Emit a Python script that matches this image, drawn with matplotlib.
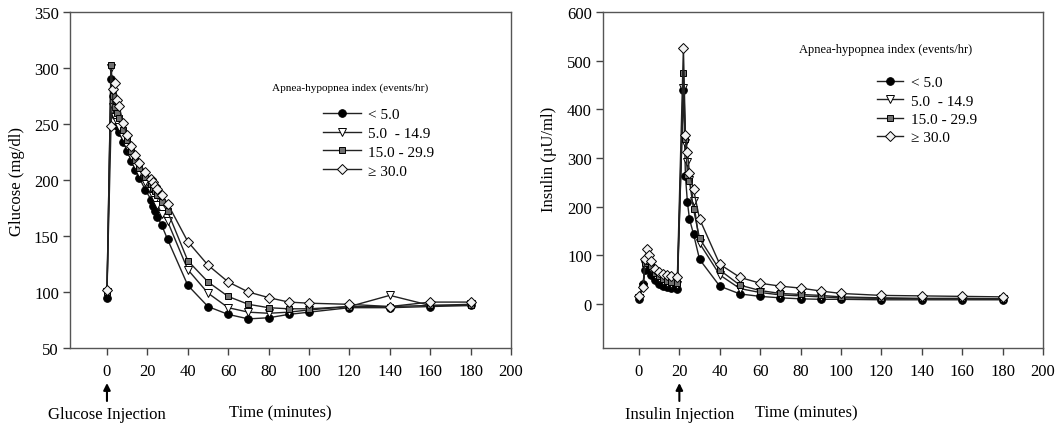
import matplotlib
matplotlib.use("Agg")
import matplotlib.pyplot as plt

plt.rcParams['font.family'] = ['Liberation Serif', 'DejaVu Serif']

# sampling times (minutes)
t = [0, 2, 3, 4, 5, 6, 8, 10, 12, 14, 16, 19, 22, 23, 24, 25, 27, 30,
     40, 50, 60, 70, 80, 90, 100, 120, 140, 160, 180]

groups = ['< 5.0', '5.0  - 14.9', '15.0 - 29.9', '\u2265 30.0']

# glucose (mg/dl)
glu_lt5 = [95, 290, 275, 258, 248, 243, 234, 226, 217, 209, 202, 191, 182, 177, 172, 167, 160, 147,
           106, 87, 80, 76, 77, 80, 82, 86, 86, 87, 88]
glu_5_15 = [100, 300, 265, 256, 252, 247, 238, 230, 221, 213, 206, 198, 190, 186, 182, 178, 170, 163,
            120, 99, 86, 82, 81, 82, 84, 87, 97, 88, 89]
glu_15_30 = [100, 303, 275, 265, 260, 255, 245, 236, 226, 218, 211, 203, 196, 193, 190, 187, 180, 172,
             128, 109, 96, 89, 86, 85, 85, 87, 87, 88, 88]
glu_ge30 = [102, 248, 281, 287, 271, 266, 251, 240, 230, 222, 215, 207, 201, 198, 195, 192, 187, 179,
            145, 124, 109, 100, 95, 91, 90, 89, 87, 91, 91]

# insulin (uU/ml)
ins_lt5 = [11, 41, 70, 80, 72, 60, 50, 42, 38, 35, 33, 31, 440, 263, 209, 175, 144, 92,
           37, 21, 16, 13, 11, 10, 10, 9, 9, 9, 9]
ins_5_15 = [13, 36, 80, 90, 84, 73, 60, 53, 48, 44, 41, 40, 443, 330, 291, 255, 212, 125,
            60, 32, 24, 19, 17, 15, 13, 12, 11, 11, 10]
ins_15_30 = [14, 38, 85, 95, 88, 78, 65, 58, 52, 48, 45, 44, 474, 340, 265, 253, 195, 135,
             70, 39, 28, 22, 20, 18, 15, 13, 12, 12, 11]
ins_ge30 = [16, 35, 92, 113, 100, 88, 72, 66, 62, 59, 57, 55, 527, 347, 312, 270, 236, 175,
            82, 55, 43, 37, 33, 27, 22, 18, 17, 16, 15]

styles = [dict(marker='o', mfc='black', ms=5.5),
          dict(marker='v', mfc='white', ms=5.5),
          dict(marker='s', mfc='#707070', ms=5),
          dict(marker='D', mfc='#f2f2f2', ms=5.5)]

W, H = 1059, 427
fig = plt.figure(figsize=(W / 100, H / 100), dpi=100)
ax1 = fig.add_axes([70 / W, 1 - 349 / H, 441 / W, 336 / H])
ax2 = fig.add_axes([603 / W, 1 - 349 / H, 440 / W, 336 / H])


def frac(p):
    # figure pixel row -> axes fraction
    return (349 - p) / 336


def draw(ax, series):
    for y, st, lab in zip(series, styles, groups):
        ax.plot(t, y, color='#222222', lw=1, mec='black', mew=0.7, label=lab, **st)
    ax.set_xticks(range(0, 201, 20))
    ax.tick_params(labelsize=12, length=5, width=1, color='#444444', pad=6)
    ax.tick_params(axis='y', pad=3)
    for s in ax.spines.values():
        s.set_color('#555555')
        s.set_linewidth(1)


draw(ax1, [glu_lt5, glu_5_15, glu_15_30, glu_ge30])
ax1.set_xlim(-18.3, 200)
ax1.set_ylim(50, 350)
ax1.set_yticks(range(50, 351, 50))
ax1.set_ylabel('Glucose (mg/dl)', fontsize=12)
ax1.yaxis.set_label_coords(-0.103, 0.5)

draw(ax2, [ins_lt5, ins_5_15, ins_15_30, ins_ge30])
ax2.set_xlim(-17.8, 200)
ax2.set_ylim(-90, 600)
ax2.set_yticks(range(0, 601, 100))
ax2.set_ylabel('Insulin (\u00b5U/ml)', fontsize=12)
ax2.yaxis.set_label_coords(-0.105, 0.565)

# legends
fig.text(272 / W, 1 - 88 / H, 'Apnea-hypopnea index (events/hr)', fontsize=8.1, va='center')
ax1.legend(loc='upper left', bbox_to_anchor=(315 / W, 1 - 101 / H), bbox_transform=fig.transFigure,
           frameon=False, fontsize=11, borderpad=0, handlelength=2.5, handletextpad=0.5,
           labelspacing=0.33)
fig.text(799 / W, 1 - 50 / H, 'Apnea-hypopnea index (events/hr)', fontsize=9, va='center')
ax2.legend(loc='upper left', bbox_to_anchor=(869 / W, 1 - 69 / H), bbox_transform=fig.transFigure,
           frameon=False, fontsize=11, borderpad=0, handlelength=1.75, handletextpad=0.5,
           labelspacing=0.3)

# x labels and injection arrows
fig.text(280 / W, 1 - 413 / H, 'Time (minutes)', fontsize=12, ha='center', va='center')
fig.text(806 / W, 1 - 413 / H, 'Time (minutes)', fontsize=12, ha='center', va='center')
for ax, t0, name in [(ax1, 0, 'Glucose Injection'), (ax2, 20, 'Insulin Injection')]:
    ax.annotate(name, xy=(t0, 0), xycoords=('data', 'axes fraction'), xytext=(t0, frac(415)),
                textcoords=('data', 'axes fraction'), fontsize=12, ha='center', va='center',
                annotation_clip=False)
    ax.annotate('', xy=(t0, frac(384)), xycoords=('data', 'axes fraction'), xytext=(t0, frac(402)),
                textcoords=('data', 'axes fraction'), annotation_clip=False,
                arrowprops=dict(arrowstyle='-|>', color='black', lw=1.5, mutation_scale=10,
                                shrinkA=0, shrinkB=0))

fig.savefig('out.png', dpi=100)
